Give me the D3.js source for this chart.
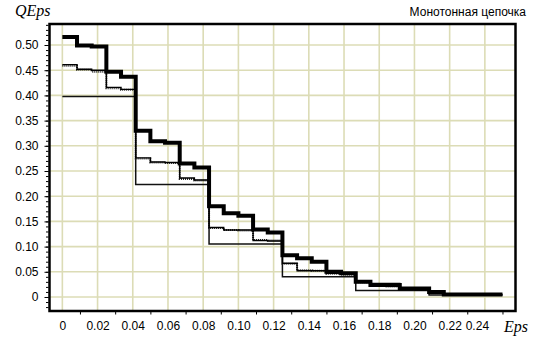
<!DOCTYPE html>
<html>
<head>
<meta charset="utf-8">
<script src="https://cdn.jsdelivr.net/npm/d3@7/dist/d3.min.js"></script>
<style>
  html, body { margin: 0; padding: 0; background: #fff; }
  svg { display: block; }
</style>
</head>
<body>
<svg id="chart" width="538" height="340"></svg>
<script>
// Step boundaries: Eps = k/120, k = 0..30
const epsSteps = d3.range(0, 31).map(k => k / 120);

// QEps value on each interval [k/120, (k+1)/120)
const seriesThick = [0.516, 0.499, 0.497, 0.447, 0.437, 0.330, 0.309, 0.306, 0.265, 0.257,
                     0.180, 0.166, 0.161, 0.134, 0.128, 0.083, 0.077, 0.070, 0.050, 0.047,
                     0.030, 0.024, 0.024, 0.017, 0.017, 0.010, 0.005, 0.005, 0.005, 0.005];
const seriesMedium = [0.461, 0.452, 0.450, 0.416, 0.412, 0.276, 0.268, 0.267, 0.236, 0.232,
                      0.138, 0.133, 0.133, 0.112, 0.111, 0.067, 0.052, 0.052, 0.047, 0.045,
                      0.032, 0.027, 0.027, 0.017, 0.014, 0.008, 0.005, 0.005, 0.005, 0.005];
const seriesDotted = [0.459, 0.451, 0.447, 0.414, 0.411, 0.275, 0.267, 0.266, 0.234, 0.231,
                      0.137, 0.133, 0.132, 0.113, 0.112, 0.066, 0.053, 0.052, 0.046, 0.044,
                      0.029, 0.022, 0.021, 0.016, 0.014, 0.007, 0.004, 0.004, 0.004, 0.004];
const seriesThin = [0.398, 0.398, 0.398, 0.398, 0.398, 0.223, 0.223, 0.223, 0.223, 0.223,
                    0.105, 0.105, 0.105, 0.105, 0.105, 0.040, 0.040, 0.040, 0.040, 0.040,
                    0.013, 0.013, 0.013, 0.013, 0.013, 0.004, 0.004, 0.004, 0.004, 0.004];

// Axis ticks
const xTickValues = d3.range(0, 0.2401, 0.02);
const xTickLabels = ["0", "0.02", "0.04", "0.06", "0.08", "0.10", "0.12", "0.14", "0.16", "0.18", "0.20", "0.22", "0.24"];
const yTickValues = d3.range(0, 0.5001, 0.05);
const yTickLabels = ["0", "0.05", "0.10", "0.15", "0.20", "0.25", "0.30", "0.35", "0.40", "0.45", "0.50"];

const titleText = "Монотонная цепочка";
const yAxisTitle = "QEps";
const xAxisTitle = "Eps";

const svg = d3.select("#chart");
const frame = { left: 49.5, right: 515.5, top: 24, bottom: 311 };

const x = d3.scaleLinear().domain([-0.0073, 0.2574]).range([frame.left, frame.right]);
const y = d3.scaleLinear().domain([-0.0278, 0.5417]).range([frame.bottom, frame.top]);

const gridColor = "#dcdcb6";

// Grid
const grid = svg.append("g");
grid.selectAll("line.h").data(yTickValues).join("line")
  .attr("x1", frame.left).attr("x2", frame.right)
  .attr("y1", d => y(d)).attr("y2", d => y(d))
  .attr("stroke", gridColor).attr("stroke-width", 1.6);
grid.selectAll("line.v").data(xTickValues).join("line")
  .attr("y1", frame.top).attr("y2", frame.bottom)
  .attr("x1", d => x(d)).attr("x2", d => x(d))
  .attr("stroke", gridColor).attr("stroke-width", 1.6);

// Step lines
function toPoints(vals) {
  const pts = vals.map((v, i) => [epsSteps[i], v]);
  pts.push([epsSteps[vals.length], vals[vals.length - 1]]);
  return pts;
}
const line = d3.line().x(d => x(d[0])).y(d => y(d[1])).curve(d3.curveStepAfter);

const lines = svg.append("g").attr("fill", "none");
lines.append("path").datum(toPoints(seriesThin)).attr("d", line)
  .attr("stroke", "#111").attr("stroke-width", 1.5);
lines.append("path").datum(toPoints(seriesDotted)).attr("d", line)
  .attr("stroke", "#222").attr("stroke-width", 2).attr("stroke-dasharray", "1,1");
lines.append("path").datum(toPoints(seriesMedium)).attr("d", line)
  .attr("stroke", "#000").attr("stroke-width", 1.4);
lines.append("path").datum(toPoints(seriesThick)).attr("d", line)
  .attr("stroke", "#000").attr("stroke-width", 4);

// Frame
svg.append("rect")
  .attr("x", frame.left).attr("y", frame.top)
  .attr("width", frame.right - frame.left).attr("height", frame.bottom - frame.top)
  .attr("fill", "none").attr("stroke", "#000").attr("stroke-width", 2.5);

// Y axis: minor ticks every 0.01, major every 0.05
const yAxis = d3.axisLeft(y).tickValues(yTickValues)
  .tickFormat((d, i) => yTickLabels[i]).tickSize(4).tickPadding(6);
const yMinor = d3.axisLeft(y).tickValues(d3.range(-0.02, 0.5401, 0.01))
  .tickFormat("").tickSize(2.5);
svg.append("g").attr("transform", `translate(${frame.left - 1},0)`).call(yMinor)
  .call(g => g.select(".domain").remove())
  .call(g => g.selectAll("line").attr("stroke", "#000"));
svg.append("g").attr("transform", `translate(${frame.left - 1},0)`).call(yAxis)
  .call(g => g.select(".domain").remove())
  .call(g => g.selectAll("line").attr("stroke", "#000"))
  .call(g => g.selectAll("text").attr("font-family", "'Liberation Sans', Arial, sans-serif")
    .attr("font-size", 12).attr("fill", "#000"));

// X axis: minor ticks every 0.01
const xAxis = d3.axisBottom(x).tickValues(xTickValues)
  .tickFormat((d, i) => xTickLabels[i]).tickSize(3).tickPadding(6);
const xMinor = d3.axisBottom(x).tickValues(d3.range(0.01, 0.2501, 0.02))
  .tickFormat("").tickSize(2.5);
svg.append("g").attr("transform", `translate(0,${frame.bottom + 1})`).call(xMinor)
  .call(g => g.select(".domain").remove())
  .call(g => g.selectAll("line").attr("stroke", "#000"));
svg.append("g").attr("transform", `translate(0,${frame.bottom + 1})`).call(xAxis)
  .call(g => g.select(".domain").remove())
  .call(g => g.selectAll("line").attr("stroke", "#000").attr("stroke-opacity", 0))
  .call(g => g.selectAll("text").attr("font-family", "'Liberation Sans', Arial, sans-serif")
    .attr("font-size", 12).attr("fill", "#000"))
  // last label sits left of its tick to make room for the axis title
  .call(g => g.selectAll(".tick").filter((d, i) => i === xTickValues.length - 1)
    .select("text").attr("dx", -8));

// Titles
svg.append("text").attr("x", 15).attr("y", 16)
  .attr("font-family", "'Liberation Serif', 'Times New Roman', serif")
  .attr("font-style", "italic").attr("font-size", 16).text(yAxisTitle);
svg.append("text").attr("x", 504).attr("y", 332)
  .attr("font-family", "'Liberation Serif', 'Times New Roman', serif")
  .attr("font-style", "italic").attr("font-size", 16).text(xAxisTitle);
svg.append("text").attr("x", 526).attr("y", 15.5).attr("text-anchor", "end")
  .attr("font-family", "'Liberation Sans', Arial, sans-serif")
  .attr("font-size", 12).text(titleText);
</script>
</body>
</html>
